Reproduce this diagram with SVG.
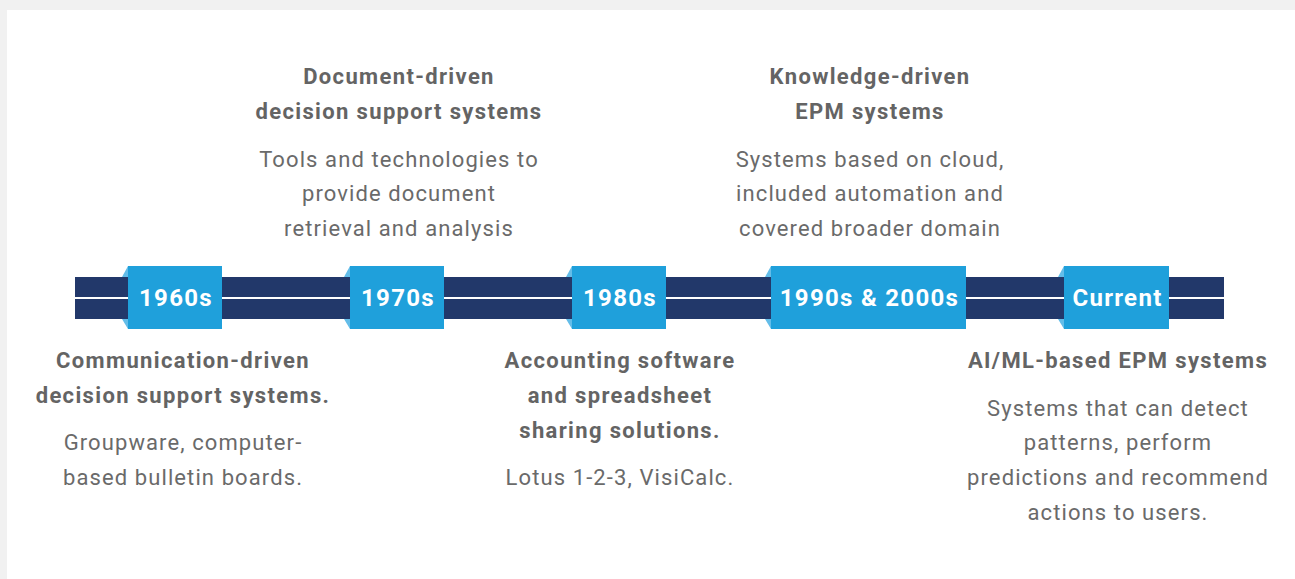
<svg xmlns="http://www.w3.org/2000/svg" width="1295" height="579" viewBox="0 0 1295 579">
  <defs>
    <style>
      .bar { fill: #22386a; }
      .box { fill: #1fa0db; }
      .fold { fill: #63bde9; }
      .era { font-family: Roboto, "Liberation Sans", sans-serif; font-weight: 700; font-size: 24px; letter-spacing: 1.3px; fill: #ffffff; text-anchor: middle; }
      .head { font-family: Roboto, "Liberation Sans", sans-serif; font-weight: 700; font-size: 22px; letter-spacing: 1.35px; fill: #646464; text-anchor: middle; }
      .body { font-family: Roboto, "Liberation Sans", sans-serif; font-weight: 400; font-size: 22px; letter-spacing: 1.1px; fill: #6a6a6a; text-anchor: middle; }
    </style>
  </defs>

  <!-- page background and panel -->
  <rect x="0" y="0" width="1295" height="579" fill="#f1f1f1"/>
  <rect x="7" y="10" width="1288" height="569" fill="#ffffff"/>

  <!-- timeline band -->
  <g id="connectors">
    <rect class="bar" x="75" y="277" width="1149" height="20"/>
    <rect class="bar" x="75" y="299" width="1149" height="20"/>
  </g>

  <!-- era markers -->
  <g id="era-1960s">
    <polygon class="fold" points="128,266 122,277 128,277"/>
    <polygon class="fold" points="128,329 122,319 128,319"/>
    <rect class="box" x="128" y="266" width="94" height="63"/>
    <text class="era" x="176" y="306">1960s</text>
  </g>
  <g id="era-1970s">
    <polygon class="fold" points="350,266 344,277 350,277"/>
    <polygon class="fold" points="350,329 344,319 350,319"/>
    <rect class="box" x="350" y="266" width="94" height="63"/>
    <text class="era" x="398" y="306">1970s</text>
  </g>
  <g id="era-1980s">
    <polygon class="fold" points="572,266 566,277 572,277"/>
    <polygon class="fold" points="572,329 566,319 572,319"/>
    <rect class="box" x="572" y="266" width="94" height="63"/>
    <text class="era" x="620" y="306">1980s</text>
  </g>
  <g id="era-1990s-2000s">
    <polygon class="fold" points="771,266 765,277 771,277"/>
    <polygon class="fold" points="771,329 765,319 771,319"/>
    <rect class="box" x="771" y="266" width="195" height="63"/>
    <text class="era" x="869.500" y="306">1990s &amp; 2000s</text>
  </g>
  <g id="era-current">
    <polygon class="fold" points="1064,266 1058,277 1064,277"/>
    <polygon class="fold" points="1064,329 1058,319 1064,319"/>
    <rect class="box" x="1064" y="266" width="105" height="63"/>
    <text class="era" x="1117.500" y="306">Current</text>
  </g>

  <!-- descriptions above the band -->
  <g id="note-document-driven">
    <text class="head" x="399" y="84">Document-driven</text>
    <text class="head" x="399" y="119">decision support systems</text>
    <text class="body" x="399" y="167">Tools and technologies to</text>
    <text class="body" x="399" y="201">provide document</text>
    <text class="body" x="399" y="236">retrieval and analysis</text>
  </g>
  <g id="note-knowledge-driven">
    <text class="head" x="870" y="84">Knowledge-driven</text>
    <text class="head" x="870" y="119">EPM systems</text>
    <text class="body" x="870" y="167">Systems based on cloud,</text>
    <text class="body" x="870" y="201">included automation and</text>
    <text class="body" x="870" y="236">covered broader domain</text>
  </g>

  <!-- descriptions below the band -->
  <g id="note-communication-driven">
    <text class="head" x="183" y="368">Communication-driven</text>
    <text class="head" x="183" y="403">decision support systems.</text>
    <text class="body" x="183" y="450">Groupware, computer-</text>
    <text class="body" x="183" y="485">based bulletin boards.</text>
  </g>
  <g id="note-accounting">
    <text class="head" x="620" y="368">Accounting software</text>
    <text class="head" x="620" y="403">and spreadsheet</text>
    <text class="head" x="620" y="438">sharing solutions.</text>
    <text class="body" x="620" y="485">Lotus 1-2-3, VisiCalc.</text>
  </g>
  <g id="note-ai-ml">
    <text class="head" x="1118" y="368">AI/ML-based EPM systems</text>
    <text class="body" x="1118" y="416">Systems that can detect</text>
    <text class="body" x="1118" y="450">patterns, perform</text>
    <text class="body" x="1118" y="485">predictions and recommend</text>
    <text class="body" x="1118" y="520">actions to users.</text>
  </g>
</svg>
